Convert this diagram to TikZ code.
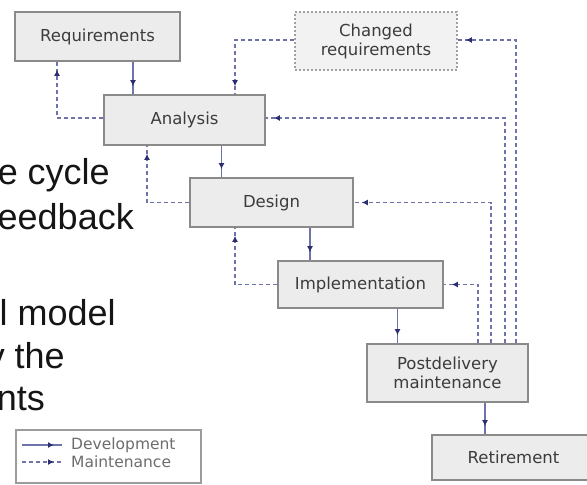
\documentclass[tikz,border=0pt]{standalone}
\usepackage{fontspec}
\setmainfont{Liberation Sans}
\newfontfamily\labelfont{DejaVu Sans}
\usetikzlibrary{arrows.meta,decorations.markings}

\definecolor{linkblue}{HTML}{6E73AC}
\definecolor{tipblue}{HTML}{2B2F72}
\definecolor{boxfill}{HTML}{ECECEC}
\definecolor{boxedge}{HTML}{8A8A8A}
\definecolor{labelgray}{HTML}{3C3C3C}
\definecolor{slidetext}{HTML}{151515}

\tikzset{
  phase/.style={draw=boxedge, line width=1.6pt, fill=boxfill, inner sep=0pt,
    font=\labelfont\fontsize{16.5}{19}\selectfont, text=labelgray, align=center},
  changedbox/.style={phase, draw=boxedge!80, fill=boxfill!70, dash pattern=on 2pt off 2pt},
  endtip/.style={postaction={decorate}, decoration={markings,
    mark=at position -8pt with {\arrow{Latex[length=6pt,width=6pt,color=tipblue]}}}},
  dev/.style={linkblue, line width=1.5pt, endtip},
  maint/.style={linkblue, line width=1.5pt, dash pattern=on 4pt off 3pt, endtip},
  slide/.style={anchor=base east, font=\fontsize{36}{40}\selectfont, text=slidetext, inner sep=0pt},
  legendtext/.style={anchor=west, inner sep=0pt, font=\labelfont\fontsize{15.5}{17}\selectfont, text=labelgray!75},
}

\begin{document}
\begin{tikzpicture}[x=1pt,y=-1pt]
\useasboundingbox (0,0) rectangle (587,485);

% slide text beside the diagram
\node[slide] (s1) at (110,184) {e cycle};
\node[slide] (s2) at (134,229) {eedback};
\node[slide] (s3) at (116,325) {ll model};
\node[slide] (s4) at (65,368) {v the};
\node[slide] (s5) at (45,410) {nts};

% phases
\node[phase, minimum width=165pt, minimum height=49pt] (req) at (97.5,36.5) {Requirements};
\node[changedbox, minimum width=162pt, minimum height=58pt] (chg) at (376,41) {Changed\\requirements};
\node[phase, minimum width=161pt, minimum height=50pt] (ana) at (184.5,120) {Analysis};
\node[phase, minimum width=163pt, minimum height=49pt] (des) at (271.5,202.5) {Design};
\node[phase, minimum width=165pt, minimum height=47pt] (imp) at (360.5,284.5) {Implementation};
\node[phase, minimum width=161pt, minimum height=58pt] (post) at (447.5,373) {Postdelivery\\maintenance};
\node[phase, minimum width=163pt, minimum height=45pt] (ret) at (513.5,457.5) {Retirement};

% development flow
\draw[dev] ([xshift=35.5pt]req.south) -- ([xshift=-51.5pt]ana.north);
\draw[dev] ([xshift=37pt]ana.south) -- ([xshift=-50pt]des.north);
\draw[dev] ([xshift=38.5pt]des.south) -- ([xshift=-50.5pt]imp.north);
\draw[dev] ([xshift=37pt]imp.south) -- ([xshift=-50pt]post.north);
\draw[dev] ([xshift=37.5pt]post.south) -- ([xshift=-28.5pt]ret.north);

% maintenance feedback
\draw[maint] ([yshift=2pt]ana.west) -| ([xshift=-40.5pt]req.south);
\draw[maint] ([yshift=1pt]chg.west) -| ([xshift=50.5pt]ana.north);
\draw[maint] (des.west) -| ([xshift=-37.5pt]ana.south);
\draw[maint] (imp.west) -| ([xshift=-36.5pt]des.south);
\draw[maint] ([xshift=30.5pt]post.north) |- (imp.east);
\draw[maint] ([xshift=43.5pt]post.north) |- (des.east);
\draw[maint] ([xshift=57.5pt]post.north) |- ([yshift=2pt]ana.east);
\draw[maint] ([xshift=68.5pt]post.north) |- ([yshift=1pt]chg.east);

% legend
\node[draw=boxedge!85, line width=1.6pt, fill=white, minimum width=185pt, minimum height=53pt, inner sep=0pt] (legend) at (108.5,456.5) {};
\coordinate (d0) at (22,445);
\coordinate (d1) at (62,445);
\coordinate (m0) at (22,462);
\coordinate (m1) at (62,462);
\draw[dev] (d0) -- (d1);
\draw[maint] (m0) -- (m1);
\node[legendtext] (ldev) at (71,445) {Development};
\node[legendtext] (lmaint) at (71,462) {Maintenance};
\end{tikzpicture}
\end{document}
